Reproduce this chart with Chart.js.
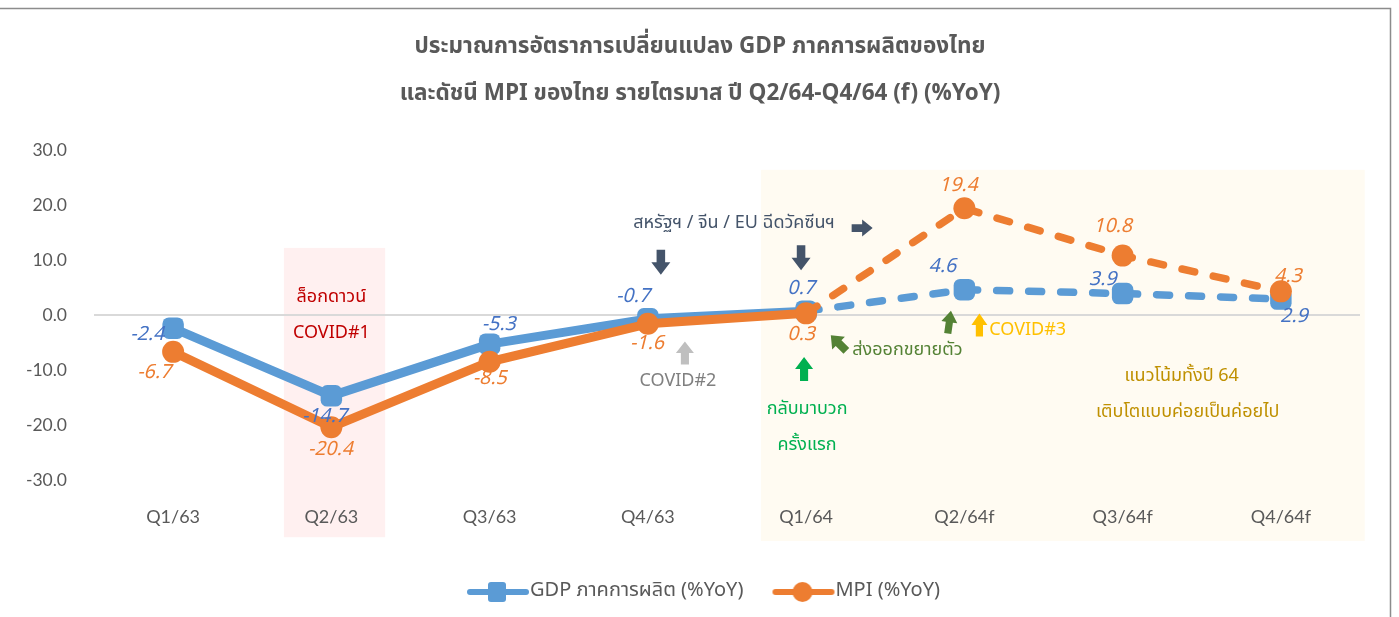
<!DOCTYPE html>
<html><head><meta charset="utf-8">
<script src="https://cdn.jsdelivr.net/npm/chart.js@4.4.1/dist/chart.umd.min.js"></script>
<style>html,body{margin:0;padding:0;background:#fff;overflow:hidden}#wrap{width:1399px;height:617px;position:relative}</style>
</head><body><div id="wrap"><canvas id="c" width="1399" height="617"></canvas></div>
<script>
// ---------- data ----------
const categories = ['Q1/63','Q2/63','Q3/63','Q4/63','Q1/64','Q2/64f','Q3/64f','Q4/64f'];
const gdpValues = [-2.4,-14.7,-5.3,-0.7,0.7,4.6,3.9,2.9];
const mpiValues = [-6.7,-20.4,-8.5,-1.6,0.3,19.4,10.8,4.3];
const seriesNames = ['GDP ภาคการผลิต (%YoY)','MPI (%YoY)'];
const yMin = -30, yMax = 30, yStep = 10;
const forecastStartIndex = 4;
const titleLines = ['ประมาณการอัตราการเปลี่ยนแปลง GDP ภาคการผลิตของไทย','และดัชนี MPI ของไทย รายไตรมาส ปี Q2/64-Q4/64 (f) (%YoY)'];

// ---------- styles ----------
const FONT = "'Noto Sans Thai','Noto Sans Thai UI',Tahoma,'Noto Sans',Loma,Garuda,sans-serif";
const BLUE = '#5B9BD5', ORANGE = '#ED7D31', BLUE_LBL = '#4472C4', GREY = '#595959';
const gdpLabelOffsets = [[-26,8],[-7,22],[9,-18],[-15,-21],[-5,-21],[-22,-22],[-20,-12],[13,19]];
const mpiLabelOffsets = [[-19,22],[-1,24],[0,18],[-1,21],[-5,23],[-6,-21],[-10,-28],[7,-13]];

const shadedAreas = [
  {i0:0.70,i1:1.34,v0:12.2,v1:-40.4,color:'#FFF0F0'},
  {i0:3.715,i1:7.53,v0:26.4,v1:-41.1,color:'#FFFBF2'}
];
const notes = [
  {t:'ล็อกดาวน์',i:1.0,v:3.1,c:'#C00000'},
  {t:'COVID#1',i:1.0,v:-3.45,c:'#C00000'},
  {t:'สหรัฐฯ / จีน / EU ฉีดวัคซีนฯ',i:3.544,v:16.5,c:'#44546A'},
  {t:'COVID#2',i:3.19,v:-12.2,c:'#808080'},
  {t:'กลับมาบวก',i:4.006,v:-17.3,c:'#00B050'},
  {t:'ครั้งแรก',i:4.006,v:-23.8,c:'#00B050'},
  {t:'ส่งออกขยายตัว',i:4.64,v:-6.7,c:'#548235'},
  {t:'COVID#3',i:5.40,v:-2.9,c:'#FFC000'},
  {t:'แนวโน้มทั้งปี 64',i:6.373,v:-11.3,c:'#BF9000'},
  {t:'เติบโตแบบค่อยเป็นค่อยไป',i:6.411,v:-17.8,c:'#BF9000'}
];
const arrows = [
  {i:3.082,v:9.6,a:90,L:25,W:19,c:'#44546A'},
  {i:3.968,v:10.4,a:90,L:25,W:19,c:'#44546A'},
  {i:4.354,v:15.8,a:0,L:21,W:17,c:'#44546A'},
  {i:3.234,v:-6.9,a:-90,L:23,W:18,c:'#BFBFBF'},
  {i:3.987,v:-9.8,a:-90,L:24,W:18,c:'#00B050'},
  {i:4.205,v:-5.1,a:-135,L:22,W:18,c:'#548235'},
  {i:4.905,v:-1.3,a:-82,L:23,W:16,c:'#548235'},
  {i:5.095,v:-1.8,a:-90,L:23,W:16,c:'#FFC000'}
];

function swatch(color, shape){
  const c=document.createElement('canvas'); c.width=76; c.height=24;
  const g=c.getContext('2d');
  g.strokeStyle=color; g.lineWidth=6; g.lineCap='round';
  g.beginPath(); g.moveTo(15,12); g.lineTo(71,12); g.stroke();
  g.fillStyle=color; g.beginPath();
  if(shape==='square'){ g.roundRect(33,2,18,20,3); } else { g.arc(42,12,10,0,Math.PI*2); }
  g.fill();
  return c;
}

const bgPlugin = {
  id:'bg',
  beforeDraw(chart){
    const {ctx, scales:{x,y}} = chart;
    ctx.save();
    ctx.fillStyle='#fff'; ctx.fillRect(0,0,chart.width,chart.height);
    shadedAreas.forEach(s=>{
      const x0=x.getPixelForValue(s.i0), x1=x.getPixelForValue(s.i1);
      const y0=y.getPixelForValue(s.v0), y1=y.getPixelForValue(s.v1);
      ctx.fillStyle=s.color; ctx.fillRect(x0,y0,x1-x0,y1-y0);
    });
    ctx.strokeStyle='#8C8C8C'; ctx.lineWidth=1.5;
    ctx.beginPath(); ctx.moveTo(0,8.5); ctx.lineTo(1390.5,8.5); ctx.lineTo(1390.5,chart.height); ctx.stroke();
    ctx.fillStyle=GREY; ctx.textAlign='center'; ctx.textBaseline='middle';
    ctx.font='bold 22.5px '+FONT;
    ctx.fillText(titleLines[0],700,48);
    ctx.fillText(titleLines[1],700,95);
    ctx.restore();
  }
};

const notesPlugin = {
  id:'notes',
  afterDatasetsDraw(chart){
    const {ctx, scales:{x,y}} = chart;
    ctx.save();
    arrows.forEach(a=>{
      const cx=x.getPixelForValue(a.i), cy=y.getPixelForValue(a.v);
      ctx.save(); ctx.translate(cx,cy); ctx.rotate(a.a*Math.PI/180);
      const L=a.L, W=a.W, hl=L*0.5, sw=W*0.45;
      ctx.fillStyle=a.c; ctx.beginPath();
      ctx.moveTo(-L/2,-sw/2); ctx.lineTo(L/2-hl,-sw/2); ctx.lineTo(L/2-hl,-W/2); ctx.lineTo(L/2,0);
      ctx.lineTo(L/2-hl,W/2); ctx.lineTo(L/2-hl,sw/2); ctx.lineTo(-L/2,sw/2); ctx.closePath(); ctx.fill();
      ctx.restore();
    });
    ctx.textAlign='center'; ctx.textBaseline='middle';
    ctx.font='18px '+FONT;
    notes.forEach(n=>{
      ctx.fillStyle=n.c;
      ctx.fillText(n.t, x.getPixelForValue(n.i), y.getPixelForValue(n.v));
    });
    ctx.font='italic 19.5px '+FONT;
    const sets=[[0,gdpValues,gdpLabelOffsets,BLUE_LBL],[1,mpiValues,mpiLabelOffsets,ORANGE]];
    sets.forEach(([di,vals,offs,col])=>{
      const meta=chart.getDatasetMeta(di);
      ctx.fillStyle=col;
      meta.data.forEach((pt,k)=>{
        ctx.fillText(vals[k].toFixed(1), pt.x+offs[k][0], pt.y+offs[k][1]);
      });
    });
    ctx.restore();
  }
};

const dash = ctx => ctx.p0DataIndex >= forecastStartIndex ? [13,19] : undefined;
const segW = ctx => ctx.p0DataIndex >= forecastStartIndex ? 7.5 : 9;

new Chart(document.getElementById('c'), {
  type:'line',
  data:{
    labels:categories,
    datasets:[
      {label:seriesNames[0],data:gdpValues,borderColor:BLUE,backgroundColor:BLUE,borderWidth:9,
       pointStyle:'rectRounded',pointRadius:12.5,pointHoverRadius:12.5,pointBorderWidth:0,
       borderCapStyle:'round',borderJoinStyle:'round',order:1,yAxisID:'y',
       segment:{borderDash:dash,borderWidth:segW}},
      {label:seriesNames[1],data:mpiValues,borderColor:ORANGE,backgroundColor:ORANGE,borderWidth:9,
       pointStyle:'circle',pointRadius:11,pointHoverRadius:11,pointBorderWidth:0,
       borderCapStyle:'round',borderJoinStyle:'round',order:0,yAxisID:'y',
       segment:{borderDash:dash,borderWidth:segW}}
    ]
  },
  options:{
    responsive:false,animation:false,
    layout:{padding:{left:7,right:0,top:150,bottom:5}},
    plugins:{
      title:{display:false},tooltip:{enabled:false},
      legend:{position:'bottom',
        labels:{usePointStyle:true,pointStyleWidth:54,padding:28,color:GREY,font:{family:FONT,size:20},
          generateLabels(chart){
            return chart.data.datasets.map((d,i)=>({text:d.label,pointStyle:swatch(d.borderColor,i===0?'square':'circle'),
              fillStyle:d.borderColor,strokeStyle:d.borderColor,lineWidth:0,hidden:false,datasetIndex:i,fontColor:GREY}));
          },
          sort:(a,b)=>a.datasetIndex-b.datasetIndex}}
    },
    scales:{
      x:{offset:true,grid:{display:false,drawTicks:false,offset:true},border:{display:false},
         ticks:{color:GREY,padding:26,font:{family:"Lato,"+FONT,size:18}},
         afterFit(s){s.height=74;}},
      y:{position:'left',min:yMin,max:yMax,border:{display:false},
         grid:{drawTicks:false,lineWidth:2,color:c=>c.tick && c.tick.value===0?'#D9D9D9':'rgba(0,0,0,0)'},
         ticks:{stepSize:yStep,color:GREY,padding:27,font:{family:"Lato,"+FONT,size:17.5},callback:v=>Number(v).toFixed(1)},
         afterFit(s){s.width=87;}},
      yRightSpacer:{position:'right',min:yMin,max:yMax,display:true,border:{display:false},
         grid:{display:false,drawTicks:false},ticks:{display:false},
         afterFit(s){s.width=39;}}
    }
  },
  plugins:[bgPlugin,notesPlugin]
});
</script></body></html>
